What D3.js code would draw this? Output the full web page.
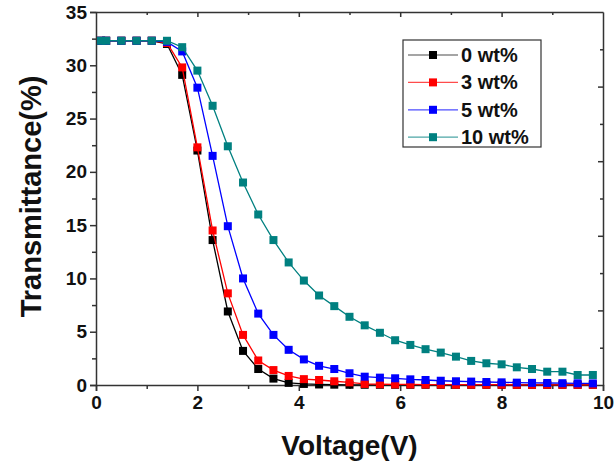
<!DOCTYPE html>
<html>
<head>
<meta charset="utf-8">
<script src="https://cdn.jsdelivr.net/npm/d3@7"></script>
<style>
  body { margin: 0; background: #fff; }
  svg text { font-family: "Liberation Sans", Arial, sans-serif; font-weight: bold; fill: #111; }
</style>
</head>
<body>
<script>
const voltage = [0.1, 0.2, 0.5, 0.8, 1.1, 1.4, 1.7, 2.0, 2.3, 2.6, 2.9, 3.2, 3.5, 3.8, 4.1, 4.4, 4.7, 5.0,
                 5.3, 5.6, 5.9, 6.2, 6.5, 6.8, 7.1, 7.4, 7.7, 8.0, 8.3, 8.6, 8.9, 9.2, 9.5, 9.8];

const wt0  = [32.3, 32.3, 32.3, 32.3, 32.3, 32.0, 29.1, 22.0, 13.6, 6.9, 3.2, 1.5, 0.6, 0.2, 0.1, 0.05, 0.03, 0.02,
              0.02, 0.02, 0.02, 0.02, 0.02, 0.02, 0.02, 0.02, 0.02, 0.02, 0.02, 0.02, 0.02, 0.02, 0.02, 0.02];
const wt3  = [32.3, 32.3, 32.3, 32.3, 32.3, 32.1, 29.8, 22.3, 14.5, 8.6, 4.7, 2.3, 1.4, 0.85, 0.55, 0.47, 0.35, 0.25,
              0.1, 0.07, 0.05, 0.05, 0.04, 0.04, 0.03, 0.03, 0.03, 0.03, 0.02, 0.02, 0.02, 0.02, 0.02, 0.02];
const wt5  = [32.3, 32.3, 32.3, 32.3, 32.3, 32.2, 31.3, 27.9, 21.5, 14.9, 10.0, 6.7, 4.7, 3.3, 2.4, 1.8, 1.5, 1.1,
              0.78, 0.69, 0.63, 0.53, 0.47, 0.4, 0.35, 0.32, 0.28, 0.25, 0.22, 0.2, 0.19, 0.17, 0.16, 0.15];
const wt10 = [32.3, 32.3, 32.3, 32.3, 32.3, 32.3, 31.7, 29.5, 26.2, 22.4, 19.0, 16.0, 13.6, 11.5, 9.8, 8.4, 7.4, 6.4,
              5.6, 4.9, 4.2, 3.76, 3.36, 3.04, 2.66, 2.26, 2.04, 1.94, 1.66, 1.5, 1.25, 1.25, 0.94, 0.94];

const seriesNames = ['0 wt%', '3 wt%', '5 wt%', '10 wt%'];
const seriesColors = ['#000000', '#ff0000', '#0000ff', '#008080'];
const seriesValues = [wt0, wt3, wt5, wt10];

const xTicks = [0, 2, 4, 6, 8, 10];
const yTicks = [0, 5, 10, 15, 20, 25, 30, 35];

const width = 614, height = 465,
      margin = { left: 96, right: 11, top: 12, bottom: 80 };

const svg = d3.select('body').append('svg')
              .attr('width', width)
              .attr('height', height);

const x = d3.scaleLinear().domain([0, 10]).range([margin.left, width - margin.right]),
      y = d3.scaleLinear().domain([0, 35]).range([height - margin.bottom, margin.top]),
      yRight = d3.scaleLinear().domain([0, 10]).range([height - margin.bottom, margin.top]);

const axisColor = '#333';

// bottom axis: major labelled, minor at odd volts
const xMinor = d3.range(1, 10, 2);
svg.append('g')
   .attr('transform', 'translate(0,' + (height - margin.bottom) + ')')
   .call(d3.axisBottom(x).tickValues(xMinor).tickSize(4).tickFormat(''))
   .call(g => g.select('.domain').remove());
svg.append('g')
   .attr('transform', 'translate(0,' + (height - margin.bottom) + ')')
   .call(d3.axisBottom(x).tickValues(xTicks).tickSize(6).tickPadding(5))
   .call(g => g.selectAll('text').style('font-size', '19px'));

// left axis
const yMinor = d3.range(2.5, 35, 5);
svg.append('g')
   .attr('transform', 'translate(' + margin.left + ',0)')
   .call(d3.axisLeft(y).tickValues(yMinor).tickSize(4).tickFormat(''))
   .call(g => g.select('.domain').remove());
svg.append('g')
   .attr('transform', 'translate(' + margin.left + ',0)')
   .call(d3.axisLeft(y).tickValues(yTicks).tickSize(6).tickPadding(3))
   .call(g => g.selectAll('text').style('font-size', '19px'));

// top axis, inward ticks
svg.append('g')
   .attr('transform', 'translate(0,' + margin.top + ')')
   .call(d3.axisTop(x).tickValues(xMinor).tickSizeInner(-3).tickSizeOuter(0).tickFormat(''))
   .call(g => g.select('.domain').remove());
svg.append('g')
   .attr('transform', 'translate(0,' + margin.top + ')')
   .call(d3.axisTop(x).tickValues(xTicks.slice(1, -1)).tickSizeInner(-5).tickSizeOuter(0).tickFormat(''));

// right axis, inward ticks
svg.append('g')
   .attr('transform', 'translate(' + (width - margin.right) + ',0)')
   .call(d3.axisRight(yRight).tickValues(d3.range(1, 10, 2)).tickSizeInner(-3).tickSizeOuter(0).tickFormat(''))
   .call(g => g.select('.domain').remove());
svg.append('g')
   .attr('transform', 'translate(' + (width - margin.right) + ',0)')
   .call(d3.axisRight(yRight).tickValues(d3.range(2, 10, 2)).tickSizeInner(-5).tickSizeOuter(0).tickFormat(''));

svg.selectAll('.domain, .tick line')
   .attr('stroke', axisColor)
   .attr('stroke-width', 1.5);
svg.selectAll('.tick text').attr('fill', '#111');

// axis titles
svg.append('text')
   .attr('x', (margin.left + width - margin.right) / 2)
   .attr('y', 455)
   .attr('text-anchor', 'middle')
   .style('font-size', '28px')
   .text('Voltage(V)');

svg.append('text')
   .attr('transform', 'translate(41,' + ((margin.top + height - margin.bottom) / 2 - 2) + ') rotate(-90)')
   .attr('text-anchor', 'middle')
   .style('font-size', '29px')
   .text('Transmittance(%)');

// series
const line = d3.line()
               .x((d, i) => x(voltage[i]))
               .y(d => y(d));

const markerSize = 8;

seriesValues.forEach(function(values, s) {
  const g = svg.append('g');
  g.append('path')
   .datum(values)
   .attr('fill', 'none')
   .attr('stroke', seriesColors[s])
   .attr('stroke-width', 1.3)
   .attr('d', line);
  g.selectAll('rect')
   .data(values)
   .enter()
   .append('rect')
   .attr('x', (d, i) => x(voltage[i]) - markerSize / 2)
   .attr('y', d => y(d) - markerSize / 2)
   .attr('width', markerSize)
   .attr('height', markerSize)
   .attr('fill', seriesColors[s]);
});

// legend
const legend = svg.append('g')
                  .attr('transform', 'translate(403,40)');

legend.append('rect')
      .attr('width', 138)
      .attr('height', 107)
      .attr('fill', '#fff')
      .attr('stroke', axisColor)
      .attr('stroke-width', 1.2);

const legendItem = legend.selectAll('g')
                         .data(seriesNames)
                         .enter()
                         .append('g')
                         .attr('transform', (d, i) => 'translate(0,' + (15 + i * 27.4) + ')');

legendItem.append('line')
          .attr('x1', 5)
          .attr('x2', 55)
          .attr('stroke', (d, i) => seriesColors[i])
          .attr('stroke-opacity', 0.7)
          .attr('stroke-width', 1.2);

legendItem.append('rect')
          .attr('x', 26)
          .attr('y', -4)
          .attr('width', 8)
          .attr('height', 8)
          .attr('fill', (d, i) => seriesColors[i]);

legendItem.append('text')
          .attr('x', 58)
          .attr('y', 7)
          .style('font-size', '20px')
          .text(d => d);
</script>
</body>
</html>
